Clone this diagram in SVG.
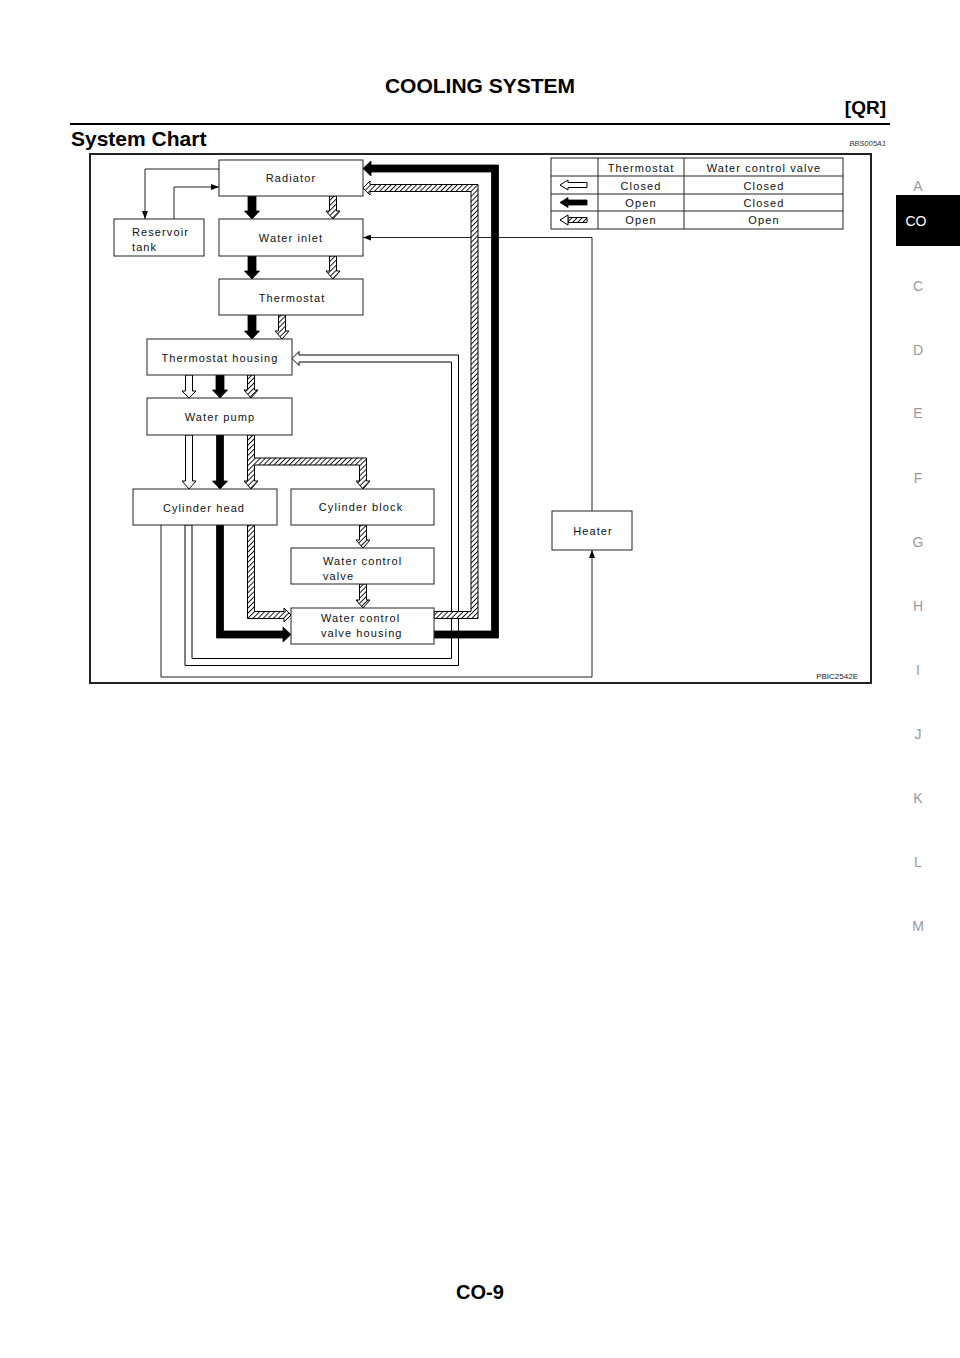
<svg xmlns="http://www.w3.org/2000/svg" width="960" height="1358" viewBox="0 0 960 1358">
<style>
text{font-family:"Liberation Sans",Arial,Helvetica,sans-serif;}
.lbl{font-size:11px;letter-spacing:1.1px;fill:#111;}
.mid{text-anchor:middle;}
.box{fill:#fff;stroke:#222;stroke-width:1;}
.blk{fill:#000;stroke:#000;stroke-width:0.8;}
.hat{fill:url(#hatch);stroke:#000;stroke-width:1;}
.hol{fill:#fff;stroke:#000;stroke-width:1;}
.thin{fill:none;stroke:#222;stroke-width:1;}
.side{font-size:14px;fill:#9a9a9a;text-anchor:middle;}
</style>
<defs>
<pattern id="hatch" width="3.6" height="3.6" patternUnits="userSpaceOnUse" patternTransform="rotate(45)">
<rect width="3.6" height="3.6" fill="#fff"/>
<line x1="0.5" y1="0" x2="0.5" y2="3.6" stroke="#000" stroke-width="0.9"/>
</pattern>
<marker id="ah" viewBox="0 0 8 6" refX="8" refY="3" markerWidth="8" markerHeight="6" markerUnits="userSpaceOnUse" orient="auto">
<path d="M0,0 L8,3 L0,6 Z" fill="#000"/>
</marker>
</defs>
<rect width="960" height="1358" fill="#fff"/>

<g id="page-header">
<text x="480" y="93" class="mid" style="font-size:21px;font-weight:bold;">COOLING SYSTEM</text>
<text x="886" y="114" text-anchor="end" style="font-size:19px;font-weight:bold;">[QR]</text>
<line x1="70" y1="124" x2="890" y2="124" stroke="#000" stroke-width="2"/>
<text x="71" y="146" style="font-size:21px;font-weight:bold;">System Chart</text>
<text x="886" y="146" text-anchor="end" style="font-size:7.5px;font-style:italic;fill:#333;">BBS005A1</text>
</g>

<g id="side-index">
<text x="918" y="191" class="side">A</text>
<rect x="896" y="195" width="64" height="51" fill="#000"/>
<text x="916" y="226" style="font-size:14px;fill:#fff;text-anchor:middle;">CO</text>
<text x="918" y="291" class="side">C</text>
<text x="918" y="355" class="side">D</text>
<text x="918" y="418" class="side">E</text>
<text x="918" y="483" class="side">F</text>
<text x="918" y="547" class="side">G</text>
<text x="918" y="611" class="side">H</text>
<text x="918" y="675" class="side">I</text>
<text x="918" y="739" class="side">J</text>
<text x="918" y="803" class="side">K</text>
<text x="918" y="867" class="side">L</text>
<text x="918" y="931" class="side">M</text>
</g>

<g id="frame">
<rect x="90" y="154" width="781" height="529" fill="none" stroke="#222" stroke-width="2"/>
<text x="858" y="679" text-anchor="end" style="font-size:8px;fill:#222;">PBIC2542E</text>
</g>

<g id="connectors">
<!-- thin lines -->
<polyline class="thin" points="219,169 145,169 145,219" marker-end="url(#ah)"/>
<polyline class="thin" points="174,219 174,187 219,187" marker-end="url(#ah)"/>
<polyline class="thin" points="592,511 592,237.5 363,237.5" marker-end="url(#ah)"/>
<polyline class="thin" points="161,525 161,677 592,677 592,550" marker-end="url(#ah)"/>

<!-- hollow pipe cylinder head -> thermostat housing -->
<polygon class="hol" points="185,525 185,665.5 458.5,665.5 458.5,355 299,355 299,351.5 292,358.5 299,365.5 299,362 451.5,362 451.5,658.5 192,658.5 192,525"/>
<!-- hollow short arrows -->
<polygon class="hol" points="185.5,375 192.5,375 192.5,391 196,391 189,398 182,391 185.5,391"/>
<polygon class="hol" points="185.5,435 192.5,435 192.5,481 196,481 189,489 182,481 185.5,481"/>

<!-- hatched arrows -->
<polygon class="hat" points="329.5,196 336.5,196 336.5,211 340,211 333,219 326,211 329.5,211"/>
<polygon class="hat" points="329.5,256 336.5,256 336.5,271 340,271 333,279 326,271 329.5,271"/>
<polygon class="hat" points="278.5,315 285.5,315 285.5,331 289,331 282,339 275,331 278.5,331"/>
<polygon class="hat" points="247.5,375 254.5,375 254.5,390 258,390 251,398 244,390 247.5,390"/>
<polygon class="hat" points="247.5,435 254.5,435 254.5,458 366.5,458 366.5,481 370,481 363,489 356,481 359.5,481 359.5,465 254.5,465 254.5,481 258,481 251,489 244,481 247.5,481"/>
<polygon class="hat" points="359.5,525 366.5,525 366.5,540 370,540 363,548 356,540 359.5,540"/>
<polygon class="hat" points="359.5,584 366.5,584 366.5,600 370,600 363,608 356,600 359.5,600"/>
<polygon class="hat" points="247.5,525 254.5,525 254.5,611.5 284,611.5 284,608 291,615 284,622 284,618.5 247.5,618.5"/>
<polygon class="hat" points="434,611.5 471,611.5 471,191.5 370,191.5 370,195 363,188 370,181 370,184.5 478,184.5 478,618.5 434,618.5"/>

<!-- black arrows -->
<polygon class="blk" points="248,196 256,196 256,211 259.5,211 252,219 244.5,211 248,211"/>
<polygon class="blk" points="248,256 256,256 256,271 259.5,271 252,279 244.5,271 248,271"/>
<polygon class="blk" points="248,315 256,315 256,331 259.5,331 252,339 244.5,331 248,331"/>
<polygon class="blk" points="216,375 224,375 224,390 227.5,390 220,398 212.5,390 216,390"/>
<polygon class="blk" points="216.5,435 223.5,435 223.5,481 227.5,481 220,489 212.5,481 216.5,481"/>
<polygon class="blk" points="216.5,525 223.5,525 223.5,631 283,631 283,627 291,634.5 283,642 283,638 216.5,638"/>
<polygon class="blk" points="434,631 491.5,631 491.5,172 371,172 371,176 363,168.5 371,161 371,165 498.5,165 498.5,638 434,638"/>
</g>

<g id="radiator">
<rect class="box" x="219" y="160" width="144" height="36"/>
<text x="291" y="182" class="lbl mid">Radiator</text>
</g>
<g id="reservoir-tank">
<rect class="box" x="114" y="219" width="90" height="37"/>
<text x="132" y="236" class="lbl">Reservoir</text>
<text x="132" y="251" class="lbl">tank</text>
</g>
<g id="water-inlet">
<rect class="box" x="219" y="219" width="144" height="37"/>
<text x="291" y="242" class="lbl mid">Water inlet</text>
</g>
<g id="thermostat">
<rect class="box" x="219" y="279" width="144" height="36"/>
<text x="292" y="302" class="lbl mid">Thermostat</text>
</g>
<g id="thermostat-housing">
<rect class="box" x="147" y="339" width="145" height="36"/>
<text x="220" y="362" class="lbl mid">Thermostat housing</text>
</g>
<g id="water-pump">
<rect class="box" x="147" y="398" width="145" height="37"/>
<text x="220" y="421" class="lbl mid">Water pump</text>
</g>
<g id="cylinder-head">
<rect class="box" x="133" y="489" width="144" height="36"/>
<text x="204" y="512" class="lbl mid">Cylinder head</text>
</g>
<g id="cylinder-block">
<rect class="box" x="291" y="489" width="143" height="36"/>
<text x="361" y="511" class="lbl mid">Cylinder block</text>
</g>
<g id="water-control-valve">
<rect class="box" x="291" y="548" width="143" height="36"/>
<text x="323" y="565" class="lbl">Water control</text>
<text x="323" y="580" class="lbl">valve</text>
</g>
<g id="water-control-valve-housing">
<rect class="box" x="291" y="608" width="143" height="36"/>
<text x="321" y="622" class="lbl">Water control</text>
<text x="321" y="637" class="lbl">valve housing</text>
</g>
<g id="heater">
<rect class="box" x="552" y="511" width="80" height="39"/>
<text x="593" y="535" class="lbl mid">Heater</text>
</g>

<g id="legend">
<rect x="551" y="158" width="292" height="71" fill="#fff" stroke="#222" stroke-width="1"/>
<line x1="551" y1="176" x2="843" y2="176" stroke="#222"/>
<line x1="551" y1="194" x2="843" y2="194" stroke="#222"/>
<line x1="551" y1="211" x2="843" y2="211" stroke="#222"/>
<line x1="598" y1="158" x2="598" y2="229" stroke="#222"/>
<line x1="684" y1="158" x2="684" y2="229" stroke="#222"/>
<text x="641" y="172" class="lbl mid">Thermostat</text>
<text x="764" y="172" class="lbl mid">Water control valve</text>
<text x="641" y="190" class="lbl mid">Closed</text>
<text x="764" y="190" class="lbl mid">Closed</text>
<text x="641" y="207" class="lbl mid">Open</text>
<text x="764" y="207" class="lbl mid">Closed</text>
<text x="641" y="224" class="lbl mid">Open</text>
<text x="764" y="224" class="lbl mid">Open</text>
<polygon class="hol" points="560,185 568,180 568,182.5 587,182.5 587,187.5 568,187.5 568,190"/>
<polygon class="blk" points="560,202.5 568,197.5 568,200 587,200 587,205 568,205 568,207.5"/>
<polygon class="hat" points="568,217.5 587,217.5 587,222.5 568,222.5"/>
<polygon class="hol" points="560,220 568,215 568,225"/>
</g>

<g id="page-footer">
<text x="480" y="1299" class="mid" style="font-size:20px;font-weight:bold;">CO-9</text>
</g>
</svg>
